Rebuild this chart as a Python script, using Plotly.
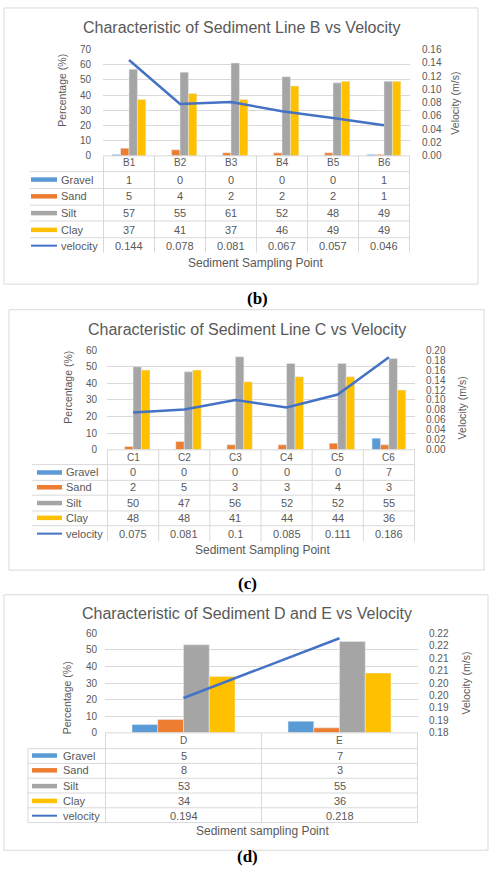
import plotly.graph_objects as go

W, H = 493, 871

# ---------------- data ----------------
series_names = ["Gravel", "Sand", "Silt", "Clay"]
series_colors = ["#5B9BD5", "#ED7D31", "#A5A5A5", "#FFC000"]
line_name = "velocity"
line_color = "#4472C4"

b_categories = ["B1", "B2", "B3", "B4", "B5", "B6"]
b_gravel = [1, 0, 0, 0, 0, 1]
b_sand = [5, 4, 2, 2, 2, 1]
b_silt = [57, 55, 61, 52, 48, 49]
b_clay = [37, 41, 37, 46, 49, 49]
b_velocity = [0.144, 0.078, 0.081, 0.067, 0.057, 0.046]

c_categories = ["C1", "C2", "C3", "C4", "C5", "C6"]
c_gravel = [0, 0, 0, 0, 0, 7]
c_sand = [2, 5, 3, 3, 4, 3]
c_silt = [50, 47, 56, 52, 52, 55]
c_clay = [48, 48, 41, 44, 44, 36]
c_velocity = [0.075, 0.081, 0.1, 0.085, 0.111, 0.186]

d_categories = ["D", "E"]
d_gravel = [5, 7]
d_sand = [8, 3]
d_silt = [53, 55]
d_clay = [34, 36]
d_velocity = [0.194, 0.218]

b_right_ticks = [0.00, 0.02, 0.04, 0.06, 0.08, 0.10, 0.12, 0.14, 0.16]
c_right_ticks = [0.00, 0.02, 0.04, 0.06, 0.08, 0.10, 0.12, 0.14, 0.16, 0.18, 0.20]
d_right_ticks = [0.18, 0.185, 0.19, 0.195, 0.20, 0.205, 0.21, 0.215, 0.22]
d_right_labels = ["0.18", "0.19", "0.19", "0.20", "0.20", "0.21", "0.21", "0.22", "0.22"]

# ---------------- layout config (pixels) ----------------
FONT = "Liberation Sans, Arial, sans-serif"
GRAY_TXT = "#595959"
GRID = "#d9d9d9"


def px(x):
    return x / W


def py(y):
    return 1 - y / H


panels = [
    dict(cats=b_categories, series=[b_gravel, b_sand, b_silt, b_clay], vel=b_velocity,
         title="Characteristic of Sediment Line B vs Velocity",
         box=(4, 2, 478, 282), title_xy=(241, 22), plot=(103, 44, 410, 152),
         yrange=(0, 70), y2range=(0, 0.16), y2ticks=b_right_ticks,
         y2labels=["%.2f" % v for v in b_right_ticks],
         ylt=(62, 86), yrt=(455, 99),
         rows=[159, 176, 193, 210, 227, 243], hlines=[168, 185, 202, 218, 235], vbottom=250,
         tleft=30, key=(31, 57), keytext=59, border=False,
         xtitle="Sediment Sampling Point", xtitle_xy=(255, 261),
         label="(b)", label_xy=(257, 297), lstand=11, rstand=11),
    dict(cats=c_categories, series=[c_gravel, c_sand, c_silt, c_clay], vel=c_velocity,
         title="Characteristic of Sediment Line C vs Velocity",
         box=(9, 308, 484, 572), title_xy=(247, 328), plot=(107, 349, 415, 450),
         yrange=(0, 60), y2range=(0, 0.20), y2ticks=c_right_ticks,
         y2labels=["%.2f" % v for v in c_right_ticks],
         ylt=(68, 387), yrt=(462, 408),
         rows=[458, 473, 488, 504, 519, 535], hlines=[465, 481, 496, 512, 527], vbottom=543,
         tleft=32, key=(37, 62), keytext=64, border=False,
         xtitle="Sediment Sampling Point", xtitle_xy=(262, 552),
         label="(c)", label_xy=(247, 586), lstand=9, rstand=10),
    dict(cats=d_categories, series=[d_gravel, d_sand, d_silt, d_clay], vel=d_velocity,
         title="Characteristic of Sediment D and E vs Velocity",
         box=(4, 597, 488, 856), title_xy=(247, 616), plot=(105, 636, 418, 737),
         yrange=(0, 60), y2range=(0.18, 0.22), y2ticks=d_right_ticks,
         y2labels=d_right_labels,
         ylt=(67, 702), yrt=(466, 687),
         rows=[745, 760, 775, 791, 806, 821], hlines=[753, 768, 783, 798, 813, 828], vbottom=828,
         tleft=28, key=(32, 57), keytext=61, border=True,
         xtitle="Sediment sampling Point", xtitle_xy=(262, 837),
         label="(d)", label_xy=(247, 862), lstand=7, rstand=10),
]

fig = go.Figure()
shapes = []
annotations = []
layout_axes = {}

for i, p in enumerate(panels):
    xa = "x" if i == 0 else "x%d" % (i + 1)
    ya = "y%d" % (2 * i + 1) if i > 0 else "y"
    ya2 = "y%d" % (2 * i + 2)
    xkey = "xaxis" if i == 0 else "xaxis%d" % (i + 1)
    ykey = "yaxis" if i == 0 else "yaxis%d" % (2 * i + 1)
    y2key = "yaxis%d" % (2 * i + 2)
    x0, y0, x1, y1 = p["plot"]

    for name, vals, col in zip(series_names, p["series"], series_colors):
        fig.add_trace(go.Bar(x=p["cats"], y=vals, name=name, marker_color=col,
                             xaxis=xa, yaxis=ya, showlegend=False))
    fig.add_trace(go.Scatter(x=p["cats"], y=p["vel"], name=line_name, mode="lines",
                             line=dict(color=line_color, width=2.5),
                             xaxis=xa, yaxis=ya2, showlegend=False))

    layout_axes[xkey] = dict(domain=[px(x0), px(x1)], anchor=ya, type="category",
                             showticklabels=False, showgrid=False, showline=False,
                             zeroline=False, ticks="", fixedrange=True)
    layout_axes[ykey] = dict(domain=[py(y1), py(y0)], anchor=xa, range=list(p["yrange"]),
                             dtick=10, showgrid=True, gridcolor=GRID, gridwidth=1,
                             zeroline=False, showline=False, ticks="",
                             ticklabelstandoff=p["lstand"],
                             tickfont=dict(family=FONT, size=10, color=GRAY_TXT))
    layout_axes[y2key] = dict(overlaying=ya, side="right", anchor=xa,
                              range=list(p["y2range"]), tickvals=p["y2ticks"],
                              ticktext=p["y2labels"], showgrid=False, zeroline=False,
                              showline=False, ticks="", ticklabelstandoff=p["rstand"],
                              tickfont=dict(family=FONT, size=10, color=GRAY_TXT))

    # outer box
    bx0, by0, bx1, by1 = p["box"]
    shapes.append(dict(type="rect", xref="paper", yref="paper", x0=px(bx0), x1=px(bx1),
                       y0=py(by1), y1=py(by0), line=dict(color=GRID, width=1)))

    # title
    annotations.append(dict(text=p["title"], x=px(p["title_xy"][0]), y=py(p["title_xy"][1]),
                            xref="paper", yref="paper", showarrow=False,
                            font=dict(family=FONT, size=16, color=GRAY_TXT),
                            xanchor="center", yanchor="middle"))
    # axis titles
    annotations.append(dict(text="Percentage (%)", x=px(p["ylt"][0]), y=py(p["ylt"][1]),
                            xref="paper", yref="paper", showarrow=False, textangle=-90,
                            font=dict(family=FONT, size=10.5, color=GRAY_TXT),
                            xanchor="center", yanchor="middle"))
    annotations.append(dict(text="Velocity (m/s)", x=px(p["yrt"][0]), y=py(p["yrt"][1]),
                            xref="paper", yref="paper", showarrow=False, textangle=-90,
                            font=dict(family=FONT, size=10.5, color=GRAY_TXT),
                            xanchor="center", yanchor="middle"))
    annotations.append(dict(text=p["xtitle"], x=px(p["xtitle_xy"][0]), y=py(p["xtitle_xy"][1]),
                            xref="paper", yref="paper", showarrow=False,
                            font=dict(family=FONT, size=12, color=GRAY_TXT),
                            xanchor="center", yanchor="middle"))
    annotations.append(dict(text="<b>%s</b>" % p["label"], x=px(p["label_xy"][0]),
                            y=py(p["label_xy"][1]), xref="paper", yref="paper",
                            showarrow=False,
                            font=dict(family="Liberation Serif, Times New Roman, serif",
                                      size=17, color="#000000"),
                            xanchor="center", yanchor="middle"))

    # data table
    rows = p["rows"]
    n = len(p["cats"])
    xref_ax = xa
    # category header row
    for j, c in enumerate(p["cats"]):
        annotations.append(dict(text=c, x=j, y=py(rows[0]), xref=xref_ax, yref="paper",
                                showarrow=False, font=dict(family=FONT, size=10, color=GRAY_TXT),
                                xanchor="center", yanchor="middle"))
    table_series = list(p["series"]) + [p["vel"]]
    for r, (vals, rname) in enumerate(zip(table_series, series_names + [line_name])):
        yrow = rows[r + 1]
        for j, v in enumerate(vals):
            annotations.append(dict(text=str(v), x=j, y=py(yrow), xref=xref_ax, yref="paper",
                                    showarrow=False,
                                    font=dict(family=FONT, size=11, color=GRAY_TXT),
                                    xanchor="center", yanchor="middle"))
        # legend key
        col = series_colors[r] if r < 4 else line_color
        wid = 4.5 if r < 4 else 2
        shapes.append(dict(type="line", xref="paper", yref="paper", x0=px(p["key"][0]),
                           x1=px(p["key"][1]), y0=py(yrow), y1=py(yrow),
                           line=dict(color=col, width=wid)))
        annotations.append(dict(text=rname, x=px(p["keytext"]), y=py(yrow), xref="paper",
                                yref="paper", showarrow=False,
                                font=dict(family=FONT, size=11, color=GRAY_TXT),
                                xanchor="left", yanchor="middle"))
    # table grid: vertical lines at category boundaries
    for j in range(n + 1):
        shapes.append(dict(type="line", xref=xref_ax, yref="paper", x0=j - 0.5, x1=j - 0.5,
                           y0=py(y1), y1=py(p["vbottom"]), line=dict(color=GRID, width=1)))
    # horizontal line at axis
    shapes.append(dict(type="line", xref="paper", yref="paper", x0=px(x0), x1=px(x1),
                       y0=py(y1), y1=py(y1), line=dict(color=GRID, width=1)))
    for hl in p["hlines"]:
        shapes.append(dict(type="line", xref="paper", yref="paper", x0=px(p["tleft"]), x1=px(x1),
                           y0=py(hl), y1=py(hl), line=dict(color=GRID, width=1)))
    if p["border"]:
        shapes.append(dict(type="line", xref="paper", yref="paper", x0=px(p["tleft"]),
                           x1=px(p["tleft"]), y0=py(p["hlines"][0]), y1=py(p["vbottom"]),
                           line=dict(color=GRID, width=1)))

fig.update_layout(
    width=W, height=H,
    margin=dict(l=0, r=0, t=0, b=0),
    paper_bgcolor="white", plot_bgcolor="white",
    barmode="group", bargap=0.34, bargroupgap=0,
    shapes=shapes, annotations=annotations,
    showlegend=False,
    **layout_axes,
)

fig.write_html(
    "out.html",
    config={"displayModeBar": False},
    post_script="document.body.style.margin='0';document.body.style.overflow='hidden';",
)
